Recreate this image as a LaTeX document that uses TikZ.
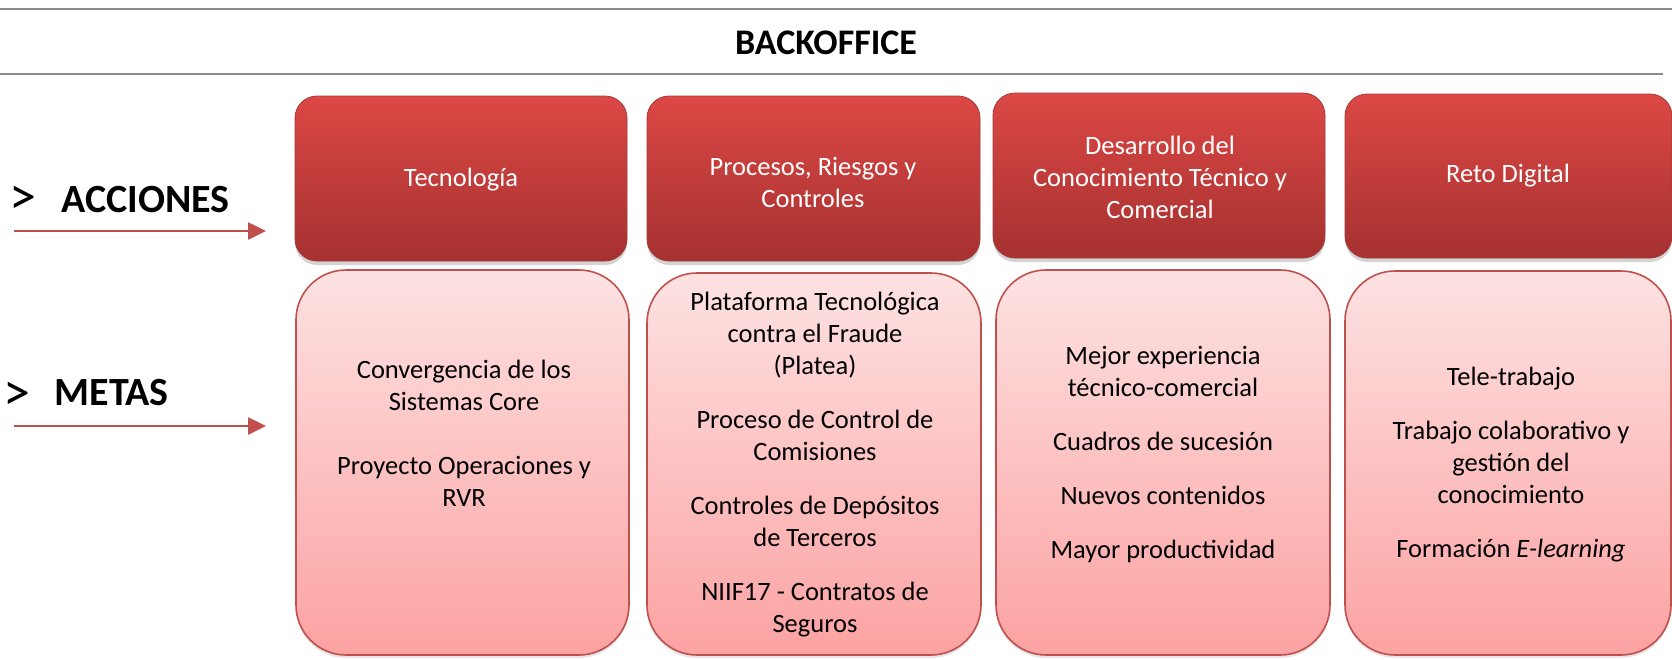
\documentclass[tikz,border=0pt]{standalone}
\usepackage{fontspec}
\setmainfont{Carlito}
\usetikzlibrary{arrows.meta,shadows}
\definecolor{accTop}{HTML}{DC4845}
\definecolor{accBot}{HTML}{A53130}
\definecolor{accEdge}{HTML}{A23A38}
\definecolor{metTop}{HTML}{FDE2E2}
\definecolor{metBot}{HTML}{FCA2A2}
\definecolor{metEdge}{HTML}{C0504D}
\definecolor{arrRed}{HTML}{C0504D}
\definecolor{rule}{HTML}{8A8A8A}
\begin{document}
\begin{tikzpicture}[x=1pt,y=-1pt,
  accbox/.style={rounded corners=22pt, top color=accTop, bottom color=accBot,
    draw=accEdge, line width=0.8pt, inner sep=0pt,
    drop shadow={shadow xshift=0pt,shadow yshift=-4pt,opacity=0.35}},
  metbox/.style={rounded corners=50pt, top color=metTop, bottom color=metBot,
    draw=metEdge, line width=1.6pt, inner sep=0pt,
    drop shadow={shadow xshift=0pt,shadow yshift=-3pt,opacity=0.2}},
  acctext/.style={text=white, align=center, font=\fontsize{26.5}{32}\selectfont},
  mettext/.style={text=black, align=center, font=\fontsize{26.5}{32}\selectfont},
  sidelabel/.style={anchor=west, font=\fontsize{40}{46}\selectfont\bfseries},
  gt/.style={inner sep=0pt, font=\fontsize{54}{60}\selectfont},
  arr/.style={draw=arrRed, line width=2.6pt, -{Triangle[length=18pt,width=17pt]}},
  rulestyle/.style={draw=rule, line width=2.8pt}]
\useasboundingbox (0,0) rectangle (1672,659);

% rules
\coordinate (r1a) at (0,9);   \coordinate (r1b) at (1672,9);
\coordinate (r2a) at (0,74);  \coordinate (r2b) at (1663,74);
\draw[rulestyle] (r1a) -- (r1b);
\draw[rulestyle] (r2a) -- (r2b);
\node[font=\fontsize{36}{40}\selectfont\bfseries] (title) at (826,43) {BACKOFFICE};

% side labels
\node[gt] (gt1) at (23,200) {>};
\node[sidelabel] (acc) at (58,200) {ACCIONES};
\node[gt] (gt2) at (17,396) {>};
\node[sidelabel] (met) at (51,393) {METAS};
\coordinate (a1s) at (14,231); \coordinate (a1e) at (266,231);
\coordinate (a2s) at (14,426); \coordinate (a2e) at (266,426);
\draw[arr] (a1s) -- (a1e);
\draw[arr] (a2s) -- (a2e);

% action boxes
\node[accbox, minimum width=332pt, minimum height=165pt] (b1) at (461,178.5) {};
\node[accbox, minimum width=333pt, minimum height=165pt] (b2) at (813.5,178.5) {};
\node[accbox, minimum width=332pt, minimum height=165pt] (b3) at (1159,175.5) {};
\node[accbox, minimum width=327pt, minimum height=164pt] (b4) at (1508.5,176) {};
\node[acctext] (tb1) at (461,180) {Tecnología};
\node[acctext] (tb2) at (813,182) {Procesos, Riesgos y\\Controles};
\node[acctext] (tb3) at (1160,177) {Desarrollo del\\Conocimiento Técnico y\\Comercial};
\node[acctext] (tb4) at (1508,176) {Reto Digital};

% goal boxes
\node[metbox, minimum width=333pt, minimum height=385pt] (m1) at (462.5,462.5) {};
\node[metbox, minimum width=334pt, minimum height=382pt] (m2) at (814,464) {};
\node[metbox, minimum width=334pt, minimum height=385pt] (m3) at (1163,462.5) {};
\node[metbox, minimum width=326pt, minimum height=384pt] (m4) at (1508,463) {};
\node[mettext] (tm1) at (464,433) {Convergencia de los\\Sistemas Core\\[32pt]Proyecto Operaciones y\\RVR};
\node[mettext] (tm2) at (815,465) {Plataforma Tecnológica\\contra el Fraude\\(Platea)\\[22pt]Proceso de Control de\\Comisiones\\[22pt]Controles de Depósitos\\de Terceros\\[22pt]NIIF17 - Contratos de\\Seguros};
\node[mettext] (tm3) at (1163,455) {Mejor experiencia\\técnico-comercial\\[22pt]Cuadros de sucesión\\[22pt]Nuevos contenidos\\[22pt]Mayor productividad};
\node[mettext] (tm4) at (1511,465) {Tele-trabajo\\[22pt]Trabajo colaborativo y\\gestión del\\conocimiento\\[22pt]Formación \textit{E-learning}};
\end{tikzpicture}
\end{document}
